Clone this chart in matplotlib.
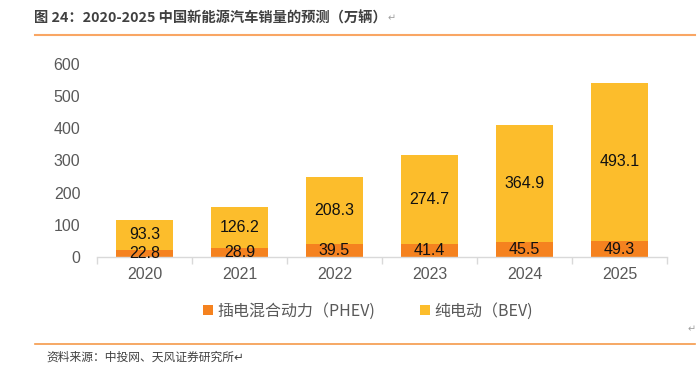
import matplotlib
matplotlib.use("Agg")
import matplotlib.pyplot as plt
import numpy as np
from matplotlib.lines import Line2D
from matplotlib.patches import Patch

years = ["2020", "2021", "2022", "2023", "2024", "2025"]
phev = [22.8, 28.9, 39.5, 41.4, 45.5, 49.3]
bev = [93.3, 126.2, 208.3, 274.7, 364.9, 493.1]
yticks = [0, 100, 200, 300, 400, 500, 600]

title = "图 24：2020-2025 中国新能源汽车销量的预测（万辆）"
source = "资料来源：中投网、天风证券研究所"
legend_labels = ["插电混合动力（PHEV)", "纯电动（BEV)"]

c_phev = "#F5821F"
c_bev = "#FCBD2C"
cjk = ["Noto Sans CJK SC", "DejaVu Sans"]
num_font = ["Liberation Sans", "DejaVu Sans"]

fig = plt.figure(figsize=(7.0, 3.77), dpi=100)
ax = fig.add_axes([97 / 700, 1 - 257 / 377, 570 / 700, 193 / 377])

x = np.arange(len(years))
w = 0.61
ax.bar(x, phev, width=w, color=c_phev, zorder=2)
ax.bar(x, bev, width=w, bottom=phev, color=c_bev, zorder=2)

for i in range(len(years)):
    ax.text(x[i], phev[i] / 2, f"{phev[i]:.1f}", ha="center", va="center",
            fontsize=11.5, family=num_font, color="#111111", zorder=3)
    ax.text(x[i], phev[i] + bev[i] / 2, f"{bev[i]:.1f}", ha="center", va="center",
            fontsize=11.5, family=num_font, color="#111111", zorder=3)

ax.set_xlim(-0.5, len(years) - 0.5)
ax.set_ylim(0, 600)
ax.set_yticks(yticks)
ax.set_yticklabels([str(v) for v in yticks], family=num_font, fontsize=11.5, color="#595959")
ax.set_xticks(x)
ax.set_xticklabels(years, family=num_font, fontsize=11.5, color="#595959")
ax.tick_params(axis="y", length=0, pad=12)
ax.tick_params(axis="x", length=0, pad=7)
ax.set_xticks(np.arange(-0.5, len(years), 1), minor=True)
ax.tick_params(axis="x", which="minor", length=5, color="#d9d9d9", width=1)

for s in ["top", "right", "left"]:
    ax.spines[s].set_visible(False)
ax.spines["bottom"].set_color("#d9d9d9")
ax.spines["bottom"].set_linewidth(1)

# legend
handles = [Patch(facecolor=c_phev), Patch(facecolor=c_bev)]
fig.legend(handles, legend_labels, loc="center", bbox_to_anchor=(368 / 700, 1 - 311 / 377),
           ncol=2, frameon=False, prop={"family": cjk, "size": 11.5},
           handlelength=0.6, handleheight=0.6, handletextpad=0.3, columnspacing=2.8,
           labelcolor="#595959")

# header and footer
fig.text(34 / 700, 1 - 18 / 377, title, family=cjk, fontsize=10.3, fontweight="bold",
         color="#404040", va="center", ha="left")
fig.text(388 / 700, 1 - 18 / 377, "↵", family=["DejaVu Sans"], fontsize=7, color="#a0a0a0",
         va="center", ha="left")
fig.add_artist(Line2D([35 / 700, 695 / 700], [1 - 35 / 377, 1 - 35 / 377],
                      color="#F9A664", lw=1.5, transform=fig.transFigure))
fig.text(688 / 700, 1 - 329 / 377, "↵", family=["DejaVu Sans"], fontsize=7, color="#a0a0a0",
         va="center", ha="left")
fig.add_artist(Line2D([35 / 700, 695 / 700], [1 - 344 / 377, 1 - 344 / 377],
                      color="#F59A4A", lw=1.2, transform=fig.transFigure))
fig.text(46 / 700, 1 - 357 / 377, source + "↵", family=cjk, fontsize=8.5, color="#404040",
         va="center", ha="left")

fig.savefig("out.png", dpi=100)
